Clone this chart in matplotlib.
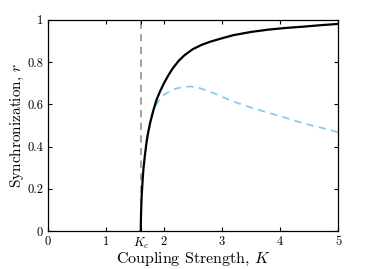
import matplotlib
matplotlib.use("Agg")
import matplotlib.pyplot as plt

plt.rcParams['font.family'] = 'serif'
plt.rcParams['font.serif'] = ['cmr10']
plt.rcParams['mathtext.fontset'] = 'cm'
plt.rcParams['axes.formatter.use_mathtext'] = True

# critical coupling
Kc = 1.6

# order parameter
K_sync = [1.6, 1.605, 1.615, 1.63, 1.645, 1.67, 1.695, 1.72, 1.76, 1.81, 1.87, 1.93, 2.0, 2.07,
          2.15, 2.25, 2.35, 2.5, 2.65, 2.8, 3.0, 3.2, 3.5, 3.8, 4.1, 4.4, 4.7, 5.0]
r_sync = [0.0, 0.08, 0.16, 0.23, 0.29, 0.355, 0.41, 0.455, 0.51, 0.565, 0.62, 0.66, 0.70, 0.735,
          0.77, 0.805, 0.832, 0.862, 0.882, 0.897, 0.913, 0.928, 0.943, 0.954, 0.962, 0.968, 0.975, 0.981]

# dashed curve
K_dash = [1.69, 1.72, 1.76, 1.8, 1.86, 1.93, 2.0, 2.1, 2.2, 2.3, 2.45, 2.6, 2.75, 2.9, 3.05,
          3.2, 3.5, 3.8, 4.1, 4.4, 4.7, 5.0]
r_dash = [0.42, 0.46, 0.51, 0.55, 0.595, 0.625, 0.645, 0.663, 0.674, 0.681, 0.685, 0.678, 0.665,
          0.648, 0.63, 0.613, 0.585, 0.56, 0.536, 0.51, 0.49, 0.468]

xticks = [0, 1, Kc, 2, 3, 4, 5]
xtick_labels = ['0', '1', r'$K_c$', '2', '3', '4', '5']
yticks = [0, 0.2, 0.4, 0.6, 0.8, 1]
ytick_labels = ['0', '0.2', '0.4', '0.6', '0.8', '1']

fig = plt.figure(figsize=(3.74, 2.69), dpi=100)
ax = fig.add_axes([0.128, 0.141, 0.776, 0.785])

ax.plot([Kc, Kc], [0, 1], color='#a8939a', lw=1.3, ls=(0, (4, 3)), zorder=1)
ax.plot(K_dash, r_dash, color='#87ceeb', lw=1.3, ls=(0, (4, 3)), zorder=2)
ax.plot(K_sync, r_sync, color='black', lw=1.6, zorder=3)

ax.set_xlim(0, 5)
ax.set_ylim(0, 1)
ax.set_xticks(xticks)
ax.set_xticklabels(xtick_labels)
ax.set_yticks(yticks)
ax.set_yticklabels(ytick_labels)
ax.tick_params(direction='in', top=True, right=True, labelsize=9, length=3, width=0.8)
for s in ax.spines.values():
    s.set_linewidth(0.9)

ax.set_xlabel(r'Coupling Strength, $K$', fontsize=11.5, labelpad=0)
ax.set_ylabel(r'Synchronization, $r$', fontsize=11, labelpad=0.5)

fig.savefig('out.png', dpi=100)
